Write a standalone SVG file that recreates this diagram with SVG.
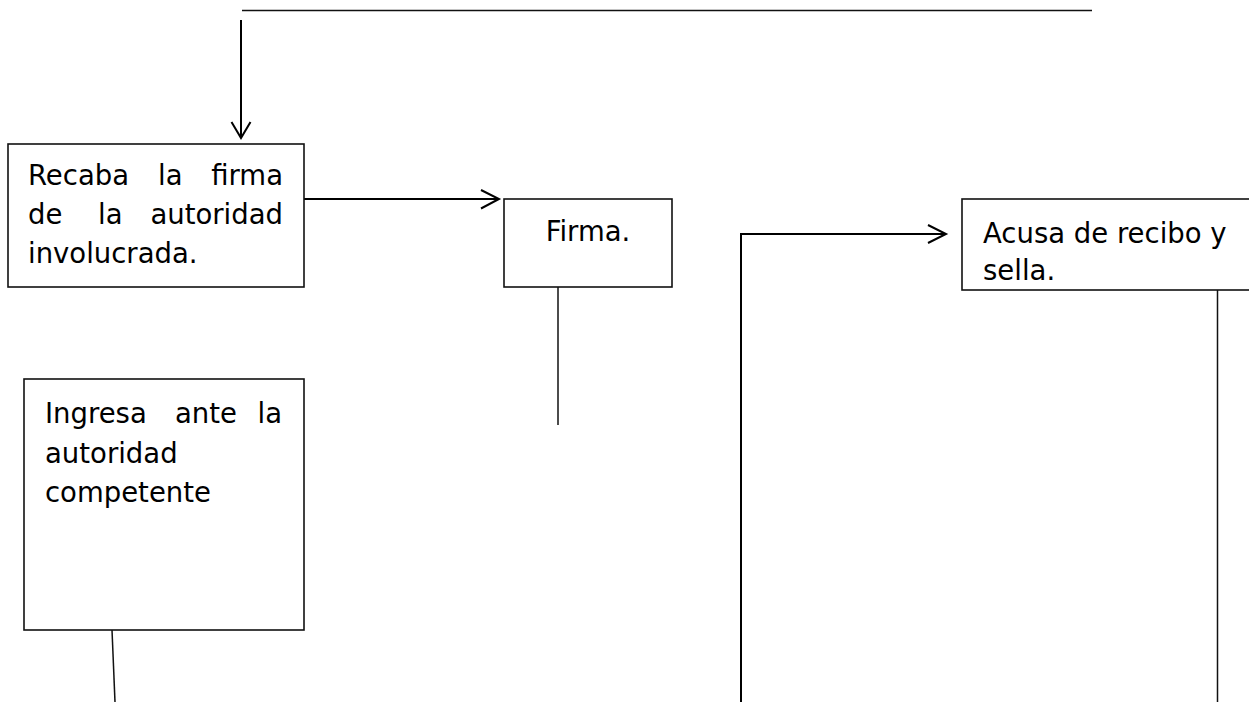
<svg xmlns="http://www.w3.org/2000/svg" width="1249" height="702" viewBox="0 0 1249 702">
<style>
.box{fill:#fff;stroke:#111;stroke-width:1.6}
.t{font-family:"DejaVu Sans","Liberation Sans",sans-serif;font-size:27.5px;fill:#000}
.c{fill:none;stroke:#000;stroke-width:2}
.thin{fill:none;stroke:#111;stroke-width:1.5}
.ah{fill:none;stroke:#000;stroke-width:2}
</style>
<rect width="1249" height="702" fill="#fff"/>
<g id="connectors">
<line class="thin" x1="242" y1="10.5" x2="1092" y2="10.5"/>
<line class="c" x1="241" y1="20" x2="241" y2="138"/>
<polyline class="ah" points="231.5,122 241,138 250.5,122"/>
<line class="c" x1="304" y1="199" x2="499" y2="199"/>
<polyline class="ah" points="481,190 499,199 481,208.5"/>
<line class="thin" x1="558" y1="287" x2="558" y2="425"/>
<polyline class="c" points="741,702 741,234 946,234"/>
<polyline class="ah" points="928,225 946,234 928,243"/>
<line class="thin" x1="1217.5" y1="290" x2="1217.5" y2="702"/>
<line class="thin" x1="112" y1="630" x2="115" y2="702"/>
</g>
<g id="node-recaba">
<rect class="box" x="8" y="144" width="296" height="143"/>
<text class="t" x="28" y="185">Recaba</text>
<text class="t" x="158" y="185">la</text>
<text class="t" x="283" y="185" text-anchor="end">firma</text>
<text class="t" x="28" y="224">de</text>
<text class="t" x="98" y="224">la</text>
<text class="t" x="283" y="224" text-anchor="end">autoridad</text>
<text class="t" x="28" y="263">involucrada.</text>
</g>
<g id="node-firma">
<rect class="box" x="504" y="199" width="168" height="88"/>
<text class="t" x="588" y="241" text-anchor="middle">Firma.</text>
</g>
<g id="node-acusa">
<rect class="box" x="962" y="199" width="300" height="91"/>
<text class="t" x="983" y="243">Acusa de recibo y</text>
<text class="t" x="983" y="280">sella.</text>
</g>
<g id="node-ingresa">
<rect class="box" x="24" y="379" width="280" height="251"/>
<text class="t" x="45" y="423">Ingresa</text>
<text class="t" x="175" y="423">ante</text>
<text class="t" x="282" y="423" text-anchor="end">la</text>
<text class="t" x="45" y="463">autoridad</text>
<text class="t" x="45" y="502">competente</text>
</g>
</svg>
